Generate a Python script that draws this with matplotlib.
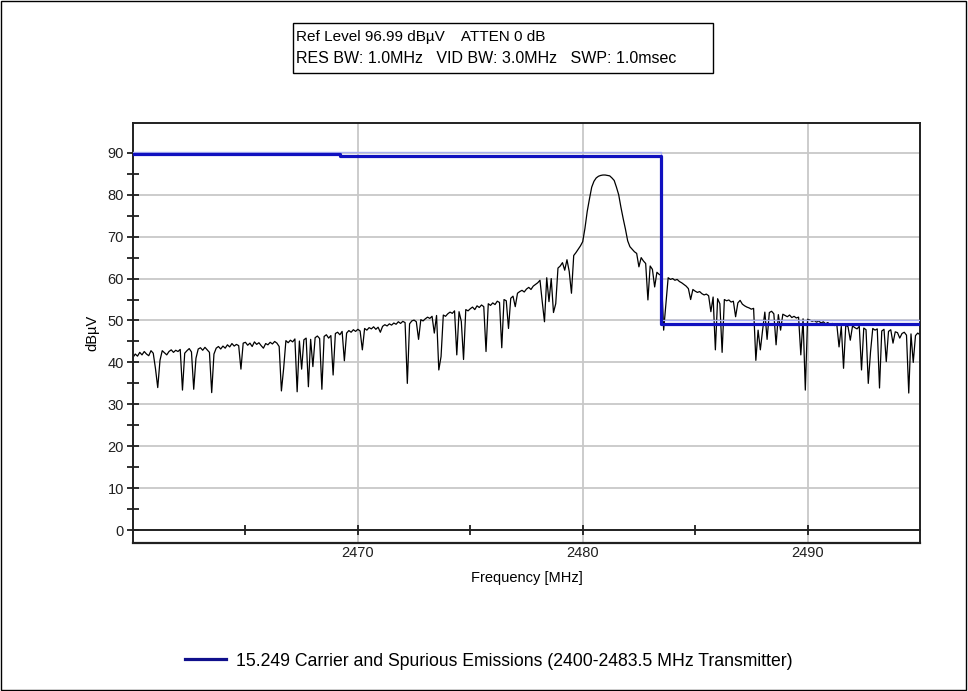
import numpy as np
import matplotlib
matplotlib.use('Agg')
import matplotlib.pyplot as plt
from matplotlib.lines import Line2D
from matplotlib.patches import Rectangle

plt.rcParams['font.family'] = ['Liberation Sans', 'DejaVu Sans']

# ── Data ─────────────────────────────────────────────────────────
f_start, f_stop = 2460.0, 2495.0
n_points = 351   # one reading every 0.1 MHz

# measured trace [dBuV], one row per MHz (2460.0 ... 2494.9) + last point
trace_dbuv = [
    41.2, 42.0, 41.5, 42.4, 41.8, 42.6, 42.0, 41.6, 42.8, 42.2,   # 2460
    38.5, 34.0, 40.5, 42.8, 42.3, 41.8, 42.6, 43.0, 42.4, 42.9,   # 2461
    42.6, 43.1, 33.4, 42.2, 42.8, 43.3, 42.5, 33.6, 41.0, 43.2,   # 2462
    43.5, 42.9, 43.6, 43.0, 42.4, 32.8, 42.0, 43.4, 43.8, 43.2,   # 2463
    43.9, 43.4, 44.2, 43.7, 44.5, 43.9, 44.3, 44.0, 38.4, 44.6,   # 2464
    44.8, 44.1, 44.6, 43.8, 44.9, 44.3, 44.7, 44.0, 43.4, 44.5,   # 2465
    44.2, 44.8, 44.4, 45.0, 44.6, 43.8, 33.2, 38.6, 45.2, 44.7,   # 2466
    45.3, 44.9, 45.6, 33.0, 45.1, 38.4, 45.4, 45.8, 34.2, 45.5,   # 2467
    39.0, 45.9, 46.3, 45.7, 33.6, 46.2, 46.6, 45.8, 46.4, 37.0,   # 2468
    46.9, 47.2, 46.6, 47.4, 40.4, 47.0, 47.6, 47.2, 47.8, 47.4,   # 2469
    47.9, 47.5, 43.0, 48.1, 47.7, 48.3, 48.0, 48.5, 47.9, 48.4,   # 2470
    47.2, 48.6, 49.0, 48.7, 49.2, 48.9, 49.4, 49.1, 49.7, 49.3,   # 2471
    49.8, 49.5, 35.0, 49.2, 49.9, 50.1, 49.7, 45.5, 50.2, 49.9,   # 2472
    50.4, 50.8, 50.5, 51.0, 47.0, 51.2, 38.2, 41.4, 51.3, 51.0,   # 2473
    51.6, 52.0, 51.7, 52.3, 41.8, 52.1, 49.8, 40.7, 52.6, 52.3,   # 2474
    52.8, 53.2, 52.6, 53.5, 53.1, 53.7, 53.3, 42.6, 54.0, 53.6,   # 2475
    54.2, 53.8, 54.6, 54.3, 43.5, 55.0, 54.7, 48.1, 55.3, 55.8,   # 2476
    53.3, 56.5, 56.9, 57.2, 56.8, 57.5, 57.9, 57.4, 58.2, 58.6,   # 2477
    59.0, 59.6, 54.5, 49.7, 60.2, 54.5, 60.0, 51.9, 54.0, 62.5,   # 2478
    63.0, 63.8, 62.0, 64.5, 61.7, 56.5, 65.5, 66.2, 67.0, 67.8,   # 2479
    68.8, 72.0, 76.0, 79.0, 81.8, 83.2, 84.0, 84.4, 84.6, 84.7,   # 2480
    84.7, 84.6, 84.5, 84.0, 83.4, 81.8, 80.0, 77.0, 74.3, 71.8,   # 2481
    69.0, 67.6, 67.0, 66.4, 66.0, 62.8, 65.0, 64.2, 63.6, 54.9,   # 2482
    63.0, 62.2, 58.0, 61.5, 61.0, 60.7, 47.7, 54.0, 60.2, 59.8,   # 2483
    60.0, 59.6, 59.8, 59.3, 59.0, 58.6, 58.2, 57.6, 55.0, 57.4,   # 2484
    57.0, 56.7, 56.9, 56.4, 56.1, 56.3, 55.9, 52.1, 55.6, 43.0,   # 2485
    55.2, 54.0, 42.4, 55.0, 54.7, 54.9, 54.4, 54.6, 50.9, 54.2,   # 2486
    54.8, 53.9, 53.5, 53.2, 53.0, 52.7, 52.9, 40.5, 47.7, 43.0,   # 2487
    47.7, 52.0, 45.5, 51.9, 52.2, 51.6, 44.2, 51.4, 47.7, 51.5,   # 2488
    51.2, 50.9, 51.3, 50.7, 51.0, 50.6, 50.8, 41.8, 50.4, 33.4,   # 2489
    50.3, 50.1, 49.8, 50.0, 49.6, 49.9, 49.4, 49.7, 49.2, 49.5,   # 2490
    49.0, 49.3, 48.8, 49.1, 43.7, 48.6, 38.6, 48.9, 48.5, 45.3,   # 2491
    48.7, 48.3, 48.0, 48.6, 38.2, 48.2, 47.8, 35.0, 42.5, 48.1,   # 2492
    47.7, 48.0, 33.9, 47.5, 47.9, 40.2, 47.4, 47.8, 44.6, 47.3,   # 2493
    47.1, 45.8, 46.9, 47.2, 46.5, 32.7, 46.8, 40.0, 46.4, 47.0,   # 2494
    46.6,
]

# FCC 15.249 limit line (step edges and levels)
limit_freq = [2460.0, 2469.2, 2483.5, 2495.0]
limit_level = [89.7, 89.3, 49.1, 49.1]
limit_shadow = [90.1, 90.1, 50.0, 50.0]

header_line1 = 'Ref Level 96.99 dBµV    ATTEN 0 dB'
header_line2 = 'RES BW: 1.0MHz   VID BW: 3.0MHz   SWP: 1.0msec'
legend_label = '15.249 Carrier and Spurious Emissions (2400-2483.5 MHz Transmitter)'

freq = np.linspace(f_start, f_stop, n_points)

# ── Figure ───────────────────────────────────────────────────────
fig = plt.figure(figsize=(9.68, 6.91), dpi=100)
ax = fig.add_axes([0.1374, 0.2146, 0.8130, 0.6067])

# grid
for yv in range(10, 100, 10):
    ax.axhline(yv, color='#c8c8c8', linewidth=1.3, zorder=0)
for xv in [2470, 2480, 2490]:
    ax.axvline(xv, color='#c8c8c8', linewidth=1.3, zorder=0)

# measured trace
ax.plot(freq, trace_dbuv, color='black', linewidth=0.9, zorder=2)

# limit line (light edge + dark line)
ax.step(limit_freq, limit_shadow, where='post', color='#aab0f0',
        linewidth=1.0, zorder=3)
ax.step(limit_freq, limit_level, where='post', color='#1010c0',
        linewidth=2.3, zorder=4)

ax.set_xlim(f_start, f_stop)
ax.set_ylim(-3, 96.99)

# axes: x axis line sits on 0 dB, frame box all around
for s in ['top', 'right', 'left']:
    ax.spines[s].set_color('#202020')
    ax.spines[s].set_linewidth(1.4)
ax.spines['bottom'].set_position(('data', 0))
ax.spines['bottom'].set_color('#202020')
ax.spines['bottom'].set_linewidth(1.4)
ax.plot([0, 1], [0, 0], transform=ax.transAxes, color='#202020',
        linewidth=1.6, clip_on=False, zorder=5)

ax.set_xticks([2465, 2470, 2475, 2480, 2485, 2490])
ax.set_xticklabels(['', '2470', '', '2480', '', '2490'])
ax.set_yticks(range(0, 95, 5))
ax.set_yticklabels([str(v) if v % 10 == 0 else '' for v in range(0, 95, 5)])
ax.tick_params(axis='x', direction='inout', length=7, width=1.3,
               pad=8, labelsize=10.5, colors='#202020')
ax.tick_params(axis='y', direction='inout', length=9, width=1.3,
               pad=2, labelsize=10.5, colors='#202020')

ax.set_xlabel('Frequency [MHz]', fontsize=10.5, labelpad=8)
ax.set_ylabel('dBµV', fontsize=10.5, labelpad=6)

# ── Header box ───────────────────────────────────────────────────
fig.patches.append(Rectangle((0.3027, 0.8944), 0.4339, 0.0723,
                             transform=fig.transFigure, fill=False,
                             edgecolor='black', linewidth=1.0))
fig.text(0.3058, 0.9465, header_line1, fontsize=11, va='center', ha='left')
fig.text(0.3058, 0.9160, header_line2, fontsize=11.5, va='center', ha='left')

# ── Legend ───────────────────────────────────────────────────────
handle = Line2D([], [], color='#10108c', linewidth=2.3)
fig.legend(handles=[handle], labels=[legend_label], loc='center',
           bbox_to_anchor=(0.505, 0.0434), frameon=False, fontsize=12.7,
           handlelength=2.3, handletextpad=0.6)

# outer border of the picture
fig.patches.append(Rectangle((0.001, 0.001), 0.997, 0.997,
                             transform=fig.transFigure, fill=False,
                             edgecolor='black', linewidth=1.0))

plt.savefig('out.png', dpi=100)
print("saved out.png")
